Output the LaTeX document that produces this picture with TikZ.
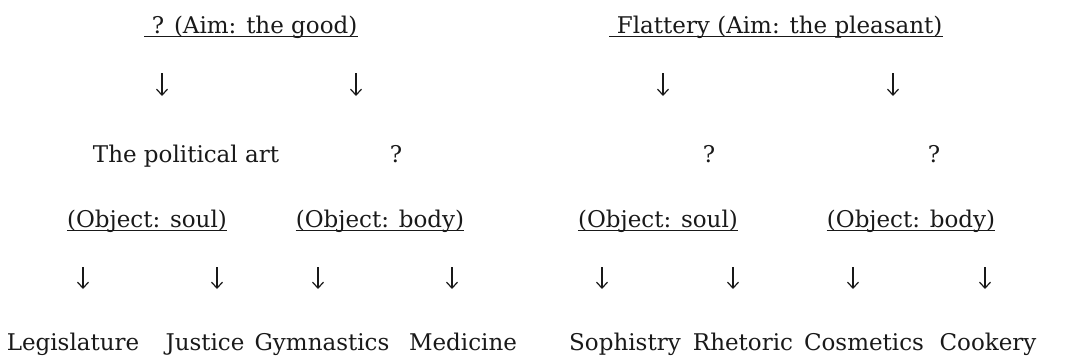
\documentclass[tikz,border=0pt]{standalone}
\usepackage{fontspec}
\setmainfont{DejaVu Serif}
\usepackage{tikz}
\usetikzlibrary{arrows.meta}
\colorlet{ink}{black!90}

\begin{document}
\begin{tikzpicture}[x=1pt,y=-1pt,
    every node/.style={anchor=base,inner sep=0pt,text=ink,font=\fontsize{23}{27}\selectfont},
    downarrow/.style={ink,line width=1.2pt,-{Straight Barb[length=6pt,width=11pt]}},
    underline/.style={ink,line width=1.1pt}]
        \useasboundingbox (0,0) rectangle (1065,356);
        % aims
        \node(good) at (251,33) {\ ? (Aim: the good)\ };
        \node(flat) at (776,33) {\ Flattery (Aim: the pleasant)};
        % arts
        \node(polit) at (186,162) {The political art};
        \node(qbody) at (396,162) {?};
        \node(qfsoul) at (709,162) {?};
        \node(qfbody) at (934,162) {?};
        % objects
        \node(osoul) at (147,227) {(Object: soul)};
        \node(obody) at (380,227) {(Object: body)};
        \node(fsoul) at (658,227) {(Object: soul)};
        \node(fbody) at (911,227) {(Object: body)};
        % branches
        \node(legis) at (73,350) {Legislature};
        \node(just) at (205,350) {Justice};
        \node(gymn) at (322,350) {Gymnastics};
        \node(medic) at (463,350) {Medicine};
        \node(soph) at (625,350) {Sophistry};
        \node(rhet) at (743,350) {Rhetoric};
        \node(cosm) at (864,350) {Cosmetics};
        \node(cook) at (988,350) {Cookery};
        \foreach \n in {good,flat,osoul,obody,fsoul,fbody}
            \draw[underline]([yshift=-3.5pt]\n.base west)--([yshift=-3.5pt]\n.base east);
        \foreach \x [count=\i] in {162,356,663,893}{
            \coordinate(t\i) at (\x,73);
            \coordinate(h\i) at (\x,96);
            \draw[downarrow](t\i)--(h\i);
        }
        \foreach \x [count=\i] in {83,217,318,452,602,733,853,985}{
            \coordinate(s\i) at (\x,267);
            \coordinate(e\i) at (\x,289);
            \draw[downarrow](s\i)--(e\i);
        }
    \end{tikzpicture}
\end{document}
